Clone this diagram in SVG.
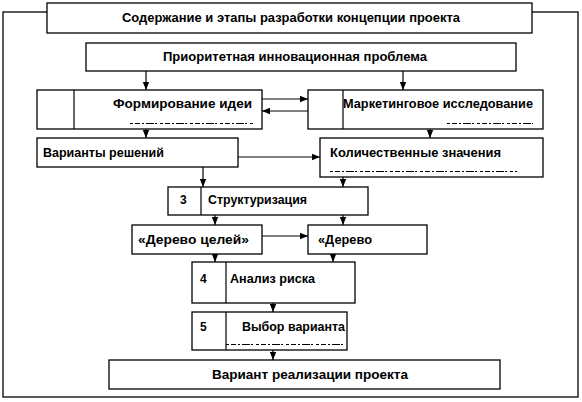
<svg xmlns="http://www.w3.org/2000/svg" width="582" height="402" viewBox="0 0 582 402">
<defs>
<marker id="ah" viewBox="0 0 8 8" refX="8" refY="4" markerWidth="8" markerHeight="8" markerUnits="userSpaceOnUse" orient="auto">
<path d="M0,0.8 L8,4 L0,7.2 Z" fill="#000"/>
</marker>
</defs>
<style>
.b{fill:#fff;stroke:#000;stroke-width:1.3}
.d{stroke:#000;stroke-width:1.2}
.t{font-family:"Liberation Sans",Arial,sans-serif;font-weight:bold;font-size:12px;fill:#000}
.c{stroke:#000;stroke-width:1.2;fill:none;marker-end:url(#ah)}
.u{stroke:#000;stroke-width:1;stroke-dasharray:3 2 5 2 2 2 8 1 2 3}
</style>
<rect x="0" y="0" width="582" height="402" fill="#fff"/>
<rect id="frame" class="b" x="3" y="12" width="575" height="385" fill="none"/>
<g id="title"><rect class="b" x="47" y="3" width="485" height="30"/><text class="t" x="122" y="22" textLength="338" lengthAdjust="spacingAndGlyphs">Содержание и этапы разработки концепции проекта</text></g>
<g id="priority"><rect class="b" x="86" y="43" width="430" height="28"/><text class="t" x="163" y="61" textLength="264" lengthAdjust="spacingAndGlyphs">Приоритетная инновационная проблема</text></g>
<g id="idea"><rect class="b" x="37" y="90" width="225" height="39"/><line class="d" x1="74" y1="90" x2="74" y2="129"/><text class="t" x="113" y="108" textLength="139" lengthAdjust="spacingAndGlyphs">Формирование идеи</text><line class="u" x1="130" y1="123.5" x2="253" y2="123.5"/></g>
<g id="market"><rect class="b" x="308" y="90" width="235" height="39"/><line class="d" x1="343" y1="90" x2="343" y2="129"/><text class="t" x="343" y="108" textLength="190" lengthAdjust="spacingAndGlyphs">Маркетинговое исследование</text><line class="u" x1="447" y1="123.5" x2="533" y2="123.5"/></g>
<g id="variants"><rect class="b" x="37" y="138" width="201" height="29"/><text class="t" x="43" y="157" textLength="121" lengthAdjust="spacingAndGlyphs">Варианты решений</text></g>
<g id="quant"><rect class="b" x="320" y="138" width="223" height="39"/><text class="t" x="330" y="157" textLength="171" lengthAdjust="spacingAndGlyphs">Количественные значения</text><line class="u" x1="330" y1="171.5" x2="517" y2="171.5"/></g>
<g id="struct"><rect class="b" x="168" y="187" width="200" height="28"/><line class="d" x1="201" y1="187" x2="201" y2="215"/><text class="t" x="180" y="204">3</text><text class="t" x="208" y="204" textLength="99" lengthAdjust="spacingAndGlyphs">Структуризация</text></g>
<g id="goals"><rect class="b" x="132" y="225" width="130" height="29"/><text class="t" x="138" y="244" textLength="111" lengthAdjust="spacingAndGlyphs">«Дерево целей»</text></g>
<g id="tree"><rect class="b" x="308" y="225" width="119" height="29"/><text class="t" x="318" y="244" textLength="54" lengthAdjust="spacingAndGlyphs">«Дерево</text></g>
<g id="risk"><rect class="b" x="192" y="262" width="163" height="41"/><line class="d" x1="226" y1="262" x2="226" y2="303"/><text class="t" x="200" y="283">4</text><text class="t" x="230" y="283" textLength="85" lengthAdjust="spacingAndGlyphs">Анализ риска</text></g>
<g id="choice"><rect class="b" x="192" y="312" width="155" height="38"/><line class="d" x1="226" y1="312" x2="226" y2="350"/><text class="t" x="200" y="331">5</text><text class="t" x="242" y="331" textLength="103" lengthAdjust="spacingAndGlyphs">Выбор варианта</text><line class="u" x1="226" y1="344.5" x2="343" y2="344.5"/></g>
<g id="result"><rect class="b" x="109" y="360" width="391" height="29"/><text class="t" x="212" y="379" textLength="196" lengthAdjust="spacingAndGlyphs">Вариант реализации проекта</text></g>
<g id="connectors">
<line class="c" x1="146" y1="71" x2="146" y2="90"/>
<line class="c" x1="403" y1="71" x2="403" y2="90"/>
<line class="c" x1="262" y1="99" x2="308" y2="99"/>
<line class="c" x1="308" y1="111" x2="262" y2="111"/>
<line class="c" x1="146" y1="129" x2="146" y2="138"/>
<line class="c" x1="430" y1="129" x2="430" y2="138"/>
<line class="c" x1="238" y1="157" x2="320" y2="157"/>
<line class="c" x1="203" y1="167" x2="203" y2="187"/>
<line class="c" x1="343" y1="177" x2="343" y2="187"/>
<line class="c" x1="215" y1="215" x2="215" y2="225"/>
<line class="c" x1="343" y1="215" x2="343" y2="225"/>
<line class="c" x1="262" y1="236" x2="308" y2="236"/>
<line class="c" x1="215" y1="254" x2="215" y2="262"/>
<line class="c" x1="333" y1="254" x2="333" y2="262"/>
<line class="c" x1="273" y1="303" x2="273" y2="312"/>
<line class="c" x1="273" y1="350" x2="273" y2="360"/>
</g>
</svg>
